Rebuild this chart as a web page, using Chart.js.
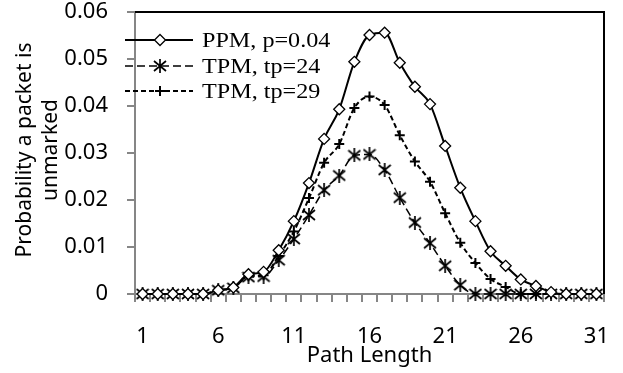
<!DOCTYPE html>
<html>
<head>
<meta charset="utf-8">
<script src="https://cdn.jsdelivr.net/npm/chart.js@4"></script>
<style>
  body { margin: 0; background: #fff; }
  #wrap { width: 623px; height: 373px; }
</style>
</head>
<body>
<div id="wrap"><canvas id="chart" width="623" height="373"></canvas></div>
<script>
// dados
const pathLength = ['1','2','3','4','5','6','7','8','9','10','11','12','13','14','15','16',
  '17','18','19','20','21','22','23','24','25','26','27','28','29','30','31'];
const ppm = [0, 0, 0, 0, 0, 0.0008, 0.0014, 0.0042, 0.0047, 0.0093, 0.0155, 0.0236, 0.0330,
  0.0393, 0.0494, 0.0551, 0.0556, 0.0492, 0.0441, 0.0404, 0.0315, 0.0226, 0.0155, 0.0091,
  0.0060, 0.0031, 0.0017, 0.0004, 0, 0, 0];
const tpm24 = [0, 0, 0, 0, 0, 0.0008, 0.0013, 0.0036, 0.0037, 0.0072, 0.0117, 0.0168, 0.0221,
  0.0252, 0.0295, 0.0297, 0.0264, 0.0205, 0.0152, 0.0108, 0.0060, 0.0019, 0, 0,
  0, 0, 0, 0, 0, 0, 0];
const tpm29 = [0, 0, 0, 0, 0, 0.0008, 0.0014, 0.0038, 0.0040, 0.0081, 0.0133, 0.0204, 0.0279,
  0.0319, 0.0396, 0.0420, 0.0402, 0.0338, 0.0282, 0.0239, 0.0172, 0.0109, 0.0066, 0.0032,
  0.0015, 0, 0, 0, 0, 0, 0];
const seriesNames = ['PPM, p=0.04', 'TPM, tp=24', 'TPM, tp=29'];
const yTitle = ['Probability a packet is', 'unmarked'];

const sans = "'Noto Sans', sans-serif";
const axisGray = '#868686';

// marcador asterisco (X + traço vertical), como no Excel
const asterisk = document.createElement('canvas');
asterisk.width = 14;
asterisk.height = 14;
(function () {
  const c = asterisk.getContext('2d');
  c.strokeStyle = '#000';
  c.lineWidth = 1.7;
  c.beginPath();
  c.moveTo(1, 2); c.lineTo(13, 12);
  c.moveTo(13, 2); c.lineTo(1, 12);
  c.moveTo(7, 0); c.lineTo(7, 14);
  c.stroke();
})();

// legenda, titulo do eixo Y e moldura desenhados à mão (sobrepõem o eixo)
const frame = {
  id: 'frame',
  afterDatasetsDraw(chart) {
    const ctx = chart.ctx;
    const a = chart.chartArea;
    ctx.save();
    ctx.strokeStyle = '#000';
    ctx.lineWidth = 2;
    ctx.beginPath();
    ctx.moveTo(a.left, a.top);
    ctx.lineTo(a.right, a.top);
    ctx.lineTo(a.right, a.bottom);
    ctx.stroke();

    // titulo Y em duas linhas
    ctx.save();
    ctx.translate(0, 150);
    ctx.rotate(-Math.PI / 2);
    ctx.fillStyle = '#000';
    ctx.font = '21px ' + sans;
    ctx.textAlign = 'center';
    ctx.textBaseline = 'alphabetic';
    ctx.fillText(yTitle[0], 0, 31);
    ctx.fillText(yTitle[1], 0, 57);
    ctx.restore();

    const rows = [40, 66, 91];
    chart.data.datasets.forEach((ds, i) => {
      const y = rows[i];
      ctx.strokeStyle = '#000';
      ctx.lineWidth = ds.borderWidth;
      ctx.setLineDash(ds.borderDash || []);
      ctx.beginPath();
      ctx.moveTo(125, y);
      ctx.lineTo(193, y);
      ctx.stroke();
      ctx.setLineDash([]);
      drawMarker(ctx, ds.pointStyle, 160, y, ds.pointRadius, ds.pointBorderWidth);
      ctx.save();
      ctx.translate(202, y + 7);
      ctx.scale(1.15, 1);
      ctx.fillStyle = '#000';
      ctx.font = "21px 'Liberation Serif', serif";
      ctx.textBaseline = 'alphabetic';
      ctx.fillText(seriesNames[i], 0, 0);
      ctx.restore();
    });
    ctx.restore();
  }
};

function drawMarker(ctx, style, x, y, r, w) {
  if (style === asterisk) {
    ctx.drawImage(asterisk, x - 7, y - 7);
    return;
  }
  ctx.save();
  ctx.lineWidth = w;
  ctx.strokeStyle = '#000';
  ctx.fillStyle = '#fff';
  ctx.beginPath();
  if (style === 'rectRot') {
    ctx.moveTo(x, y - r); ctx.lineTo(x + r, y); ctx.lineTo(x, y + r); ctx.lineTo(x - r, y);
    ctx.closePath();
    ctx.fill();
  } else {
    ctx.moveTo(x - r, y); ctx.lineTo(x + r, y);
    ctx.moveTo(x, y - r); ctx.lineTo(x, y + r);
  }
  ctx.stroke();
  ctx.restore();
}

new Chart(document.getElementById('chart'), {
  type: 'line',
  data: {
    labels: pathLength,
    datasets: [{
      label: seriesNames[0],
      data: ppm,
      borderColor: '#000',
      borderWidth: 2,
      pointStyle: 'rectRot',
      pointRadius: 5.5,
      pointBorderWidth: 1.3,
      pointBackgroundColor: '#fff',
      pointBorderColor: '#000',
      cubicInterpolationMode: 'monotone',
      clip: false,
      order: 0
    }, {
      label: seriesNames[1],
      data: tpm24,
      borderColor: '#000',
      borderWidth: 1.5,
      borderDash: [8, 4],
      pointStyle: asterisk,
      pointRadius: 6,
      pointBorderWidth: 1.6,
      pointBorderColor: '#000',
      cubicInterpolationMode: 'monotone',
      clip: false,
      order: 2
    }, {
      label: seriesNames[2],
      data: tpm29,
      borderColor: '#000',
      borderWidth: 2,
      borderDash: [5, 3],
      pointStyle: 'cross',
      pointRadius: 5,
      pointBorderWidth: 2,
      pointBorderColor: '#000',
      cubicInterpolationMode: 'monotone',
      clip: false,
      order: 1
    }]
  },
  options: {
    responsive: false,
    animation: false,
    layout: { padding: { top: 12, right: 19, left: 0, bottom: 0 } },
    plugins: {
      legend: { display: false },
      tooltip: { enabled: false }
    },
    scales: {
      x: {
        type: 'category',
        offset: true,
        afterFit: (s) => { s.height = 79; s.paddingLeft = 0; s.paddingRight = 0; },
        grid: { offset: true, drawOnChartArea: false, color: axisGray, lineWidth: 2, tickLength: 8 },
        border: { color: axisGray, width: 2 },
        ticks: {
          autoSkip: false,
          maxRotation: 0,
          padding: 22,
          color: '#000',
          font: { family: sans, size: 22 },
          callback: (v, i) => (i % 5 === 0 ? pathLength[i] : '')
        },
        title: {
          display: true,
          text: 'Path Length',
          color: '#000',
          font: { family: sans, size: 22 },
          padding: { top: 0, bottom: 4 }
        }
      },
      y: {
        min: 0,
        max: 0.06,
        afterFit: (s) => { s.width = 135; s.paddingTop = 0; s.paddingBottom = 0; },
        grid: { drawOnChartArea: false, color: axisGray, lineWidth: 2, tickLength: 8 },
        border: { color: axisGray, width: 2 },
        ticks: {
          stepSize: 0.01,
          padding: 19,
          color: '#000',
          font: { family: sans, size: 22 },
          callback: (v) => (v === 0 ? '0' : v.toFixed(2))
        }
      }
    }
  },
  plugins: [frame]
});
</script>
</body>
</html>
